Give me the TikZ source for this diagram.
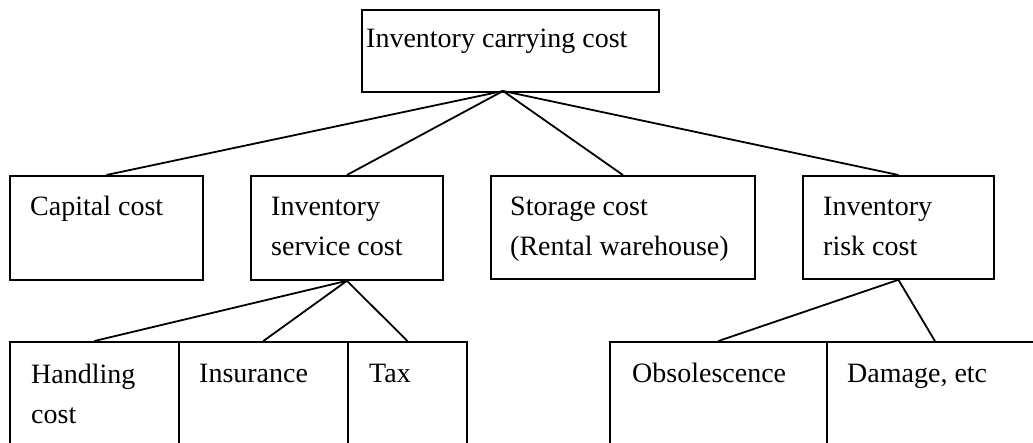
\documentclass[tikz,border=0pt]{standalone}
\usepackage{fontspec}
\setmainfont{Liberation Serif}
\begin{document}
\begin{tikzpicture}[x=1pt,y=-1pt,
  box/.style={draw, line width=1.8pt, rectangle, anchor=north west, inner sep=0pt},
  lbl/.style={anchor=base west, inner sep=0pt, align=left,
              font=\fontsize{28}{40}\selectfont},
  link/.style={line width=1.8pt}]
\clip (0,0) rectangle (1033,443);
\useasboundingbox (0,0) rectangle (1033,443);

% root
\node[box, minimum width=297pt, minimum height=82pt] (root) at (361,9) {};
\node[lbl] (rootT) at (366,48) {Inventory carrying cost};
\coordinate (hub) at (503,91);

% second level (two-line labels are placed by their last baseline)
\node[box, minimum width=193pt, minimum height=104pt] (cap) at (9,175) {};
\node[lbl] (capT) at (30,216) {Capital cost};
\node[box, minimum width=192pt, minimum height=104pt] (svc) at (250,175) {};
\node[lbl] (svcT) at (271,256) {Inventory\\service cost};
\node[box, minimum width=264pt, minimum height=103pt] (sto) at (490,175) {};
\node[lbl] (stoT) at (510,256) {Storage cost\\(Rental warehouse)};
\node[box, minimum width=191pt, minimum height=103pt] (risk) at (802,175) {};
\node[lbl] (riskT) at (823,256) {Inventory\\risk cost};

% third level
\node[box, minimum width=169pt, minimum height=130pt] (hand) at (9,341) {};
\node[lbl] (handT) at (31,423) {Handling\\cost};
\node[box, minimum width=169pt, minimum height=130pt] (ins) at (178,341) {};
\node[lbl] (insT) at (199,382) {Insurance};
\node[box, minimum width=119pt, minimum height=130pt] (tax) at (347,341) {};
\node[lbl] (taxT) at (369,382) {Tax};
\node[box, minimum width=217pt, minimum height=130pt] (obs) at (609,341) {};
\node[lbl] (obsT) at (632,382) {Obsolescence};
\node[box, minimum width=216pt, minimum height=130pt] (dmg) at (826,341) {};
\node[lbl] (dmgT) at (847,382) {Damage, etc};

% connectors
\foreach \c in {cap,svc,sto,risk} \draw[link] (hub) -- (\c.north);
\foreach \c in {hand,ins,tax} \draw[link] (svc.south) -- (\c.north);
\foreach \c in {obs,dmg} \draw[link] (risk.south) -- (\c.north);
\end{tikzpicture}
\end{document}
